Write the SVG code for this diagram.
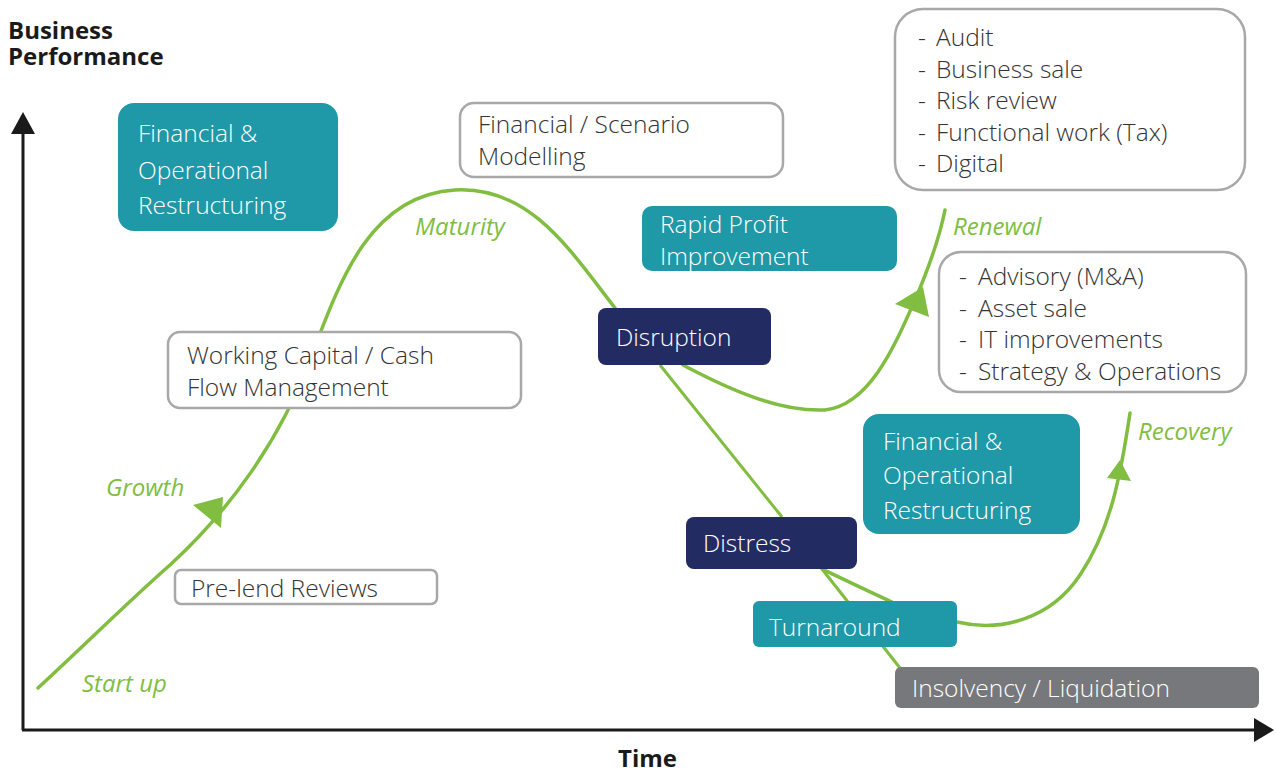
<svg xmlns="http://www.w3.org/2000/svg" width="1276" height="772" viewBox="0 0 1276 772">
  <style>
    .t { font-family: "Open Sans", "Liberation Sans", sans-serif; font-weight: 300; font-size: 24.5px; }
    .dark { fill: #333333; }
    .light { fill: #ffffff; }
    .stage { font-family: "Open Sans", "Liberation Sans", sans-serif; font-style: italic; font-size: 24px; fill: #80bd41; }
    .axis-label { font-family: "Open Sans", "Liberation Sans", sans-serif; font-weight: 700; font-size: 24px; fill: #1a1a1a; }
    .outline { fill: #ffffff; stroke: #a8a8a8; stroke-width: 2.5; }
    .teal { fill: #1f98a8; }
    .navy { fill: #232b63; }
    .grey { fill: #77787b; }
    .curve { fill: none; stroke: #80bd41; stroke-width: 3.5; stroke-linecap: round; }
    .thin { fill: none; stroke: #80bd41; stroke-width: 3; }
    .head { fill: #80bd41; }
  </style>

  <!-- axes -->
  <g id="axes">
    <line x1="23" y1="730" x2="23" y2="130" stroke="#1a1a1a" stroke-width="3"/>
    <polygon points="23,112 11,134 35,134" fill="#1a1a1a"/>
    <line x1="22" y1="730" x2="1258" y2="730" stroke="#1a1a1a" stroke-width="3"/>
    <polygon points="1274,730 1254,718 1254,742" fill="#1a1a1a"/>
    <text class="axis-label" x="8" y="39">Business</text>
    <text class="axis-label" x="8" y="65">Performance</text>
    <text class="axis-label" x="618" y="767">Time</text>
  </g>

  <!-- lifecycle curves -->
  <g id="connectors">
    <path class="curve" d="M38,688 C90,640 130,600 170,565 C230,510 280,440 310,360 C340,280 370,195 455,190 C530,186 570,250 615,308"/>
    <polygon class="head" points="223,497 193,505 221,528"/>
    <line class="thin" x1="660" y1="365" x2="782" y2="517"/>
    <path class="curve" d="M683,365 C730,390 780,412 825,410 C870,405 895,345 915,300 C930,265 940,235 945,210"/>
    <polygon class="head" points="923,287 895,304 929,317"/>
    <line class="thin" x1="822" y1="569" x2="900" y2="668"/>
    <path class="curve" d="M822,569 C845,580 870,592 892,602"/>
    <path class="curve" d="M957,622 C1000,632 1050,620 1080,575 C1110,530 1120,480 1130,413"/>
    <polygon class="head" points="1120,460 1107,478 1131,481"/>
  </g>

  <g id="node-restructuring-top">
    <rect class="teal" x="118" y="103" width="220" height="128" rx="16"/>
    <text class="t light" x="138" y="142">Financial &amp;</text>
    <text class="t light" x="138" y="179">Operational</text>
    <text class="t light" x="138" y="214">Restructuring</text>
  </g>

  <g id="node-scenario">
    <rect class="outline" x="460" y="103" width="323" height="74" rx="14"/>
    <text class="t dark" x="478" y="133">Financial / Scenario</text>
    <text class="t dark" x="478" y="165">Modelling</text>
  </g>

  <g id="node-rapid-profit">
    <rect class="teal" x="642" y="206" width="255" height="65" rx="10"/>
    <text class="t light" x="660" y="233">Rapid Profit</text>
    <text class="t light" x="660" y="265">Improvement</text>
  </g>

  <g id="node-disruption">
    <rect class="navy" x="598" y="308" width="173" height="57" rx="8"/>
    <text class="t light" x="616" y="346">Disruption</text>
  </g>

  <g id="node-working-capital">
    <rect class="outline" x="168" y="332" width="353" height="76" rx="12"/>
    <text class="t dark" x="187" y="364">Working Capital / Cash</text>
    <text class="t dark" x="187" y="396">Flow Management</text>
  </g>

  <g id="node-renewal-services">
    <rect class="outline" x="895" y="9" width="350" height="181" rx="28"/>
    <g class="t dark">
      <text x="918" y="46">-</text><text x="936" y="46">Audit</text>
      <text x="918" y="78">-</text><text x="936" y="78">Business sale</text>
      <text x="918" y="109">-</text><text x="936" y="109">Risk review</text>
      <text x="918" y="141">-</text><text x="936" y="141">Functional work (Tax)</text>
      <text x="918" y="172">-</text><text x="936" y="172">Digital</text>
    </g>
  </g>

  <g id="node-advisory">
    <rect class="outline" x="939" y="252" width="307" height="140" rx="22"/>
    <g class="t dark">
      <text x="959" y="285">-</text><text x="978" y="285">Advisory (M&amp;A)</text>
      <text x="959" y="317">-</text><text x="978" y="317">Asset sale</text>
      <text x="959" y="348">-</text><text x="978" y="348">IT improvements</text>
      <text x="959" y="380">-</text><text x="978" y="380">Strategy &amp; Operations</text>
    </g>
  </g>

  <g id="node-restructuring-right">
    <rect class="teal" x="863" y="414" width="217" height="120" rx="16"/>
    <text class="t light" x="883" y="450">Financial &amp;</text>
    <text class="t light" x="883" y="484">Operational</text>
    <text class="t light" x="883" y="519">Restructuring</text>
  </g>

  <g id="node-distress">
    <rect class="navy" x="686" y="517" width="171" height="52" rx="8"/>
    <text class="t light" x="703" y="552">Distress</text>
  </g>

  <g id="node-turnaround">
    <rect class="teal" x="753" y="601" width="204" height="46" rx="6"/>
    <text class="t light" x="769" y="636">Turnaround</text>
  </g>

  <g id="node-insolvency">
    <rect class="grey" x="895" y="667" width="364" height="41" rx="6"/>
    <text class="t light" x="912" y="697">Insolvency / Liquidation</text>
  </g>

  <g id="node-pre-lend">
    <rect class="outline" x="175" y="570" width="262" height="34" rx="6"/>
    <text class="t dark" x="191" y="597">Pre-lend Reviews</text>
  </g>

  <!-- stage labels -->
  <g id="stage-labels">
    <text class="stage" x="82" y="692">Start up</text>
    <text class="stage" x="106" y="496">Growth</text>
    <text class="stage" x="415" y="235">Maturity</text>
    <text class="stage" x="953" y="235">Renewal</text>
    <text class="stage" x="1138" y="440">Recovery</text>
  </g>
</svg>
